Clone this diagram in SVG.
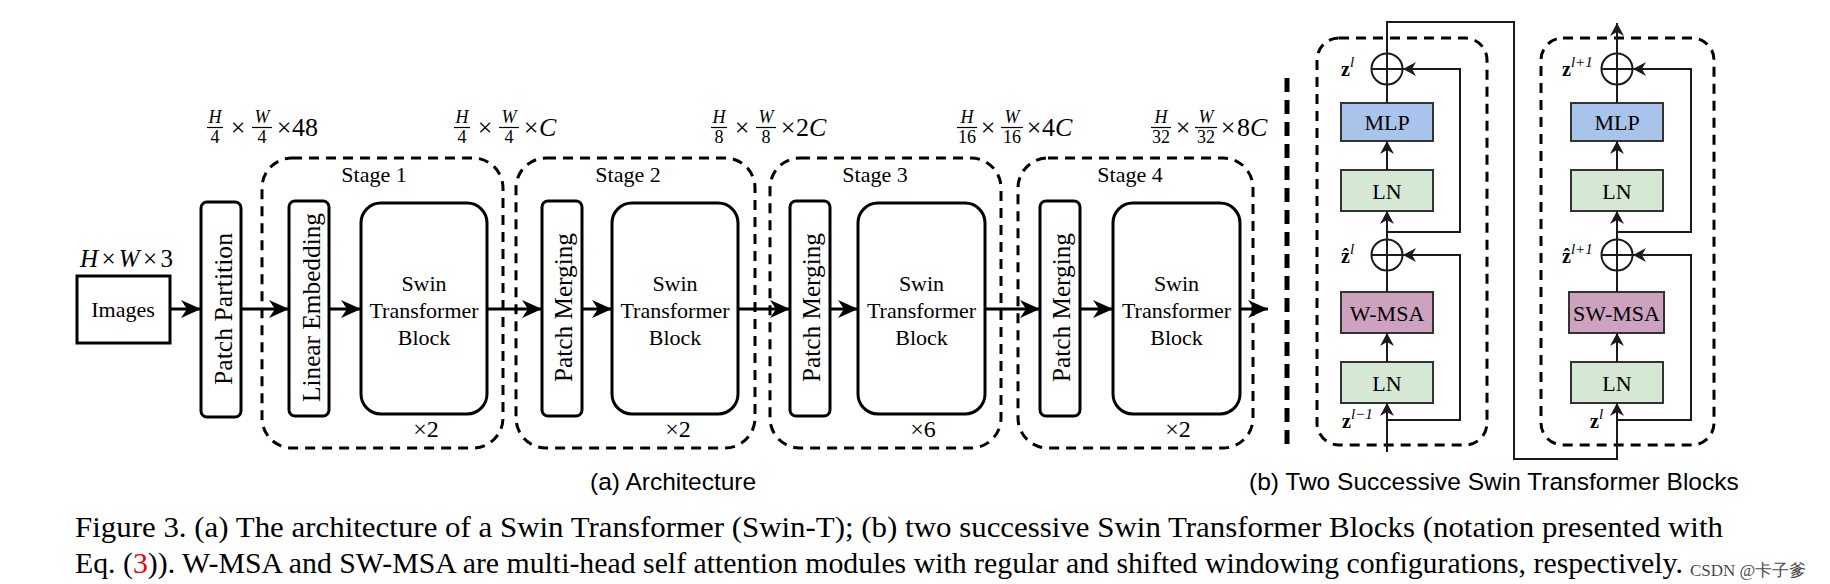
<svg xmlns="http://www.w3.org/2000/svg" width="1830" height="584" viewBox="0 0 1830 584">
<defs>
<style>
text { font-family: "Liberation Serif", "DejaVu Serif", serif; fill: #000; }
.box { fill: #fff; stroke: #000; stroke-width: 3; }
.stage { fill: none; stroke: #000; stroke-width: 3; stroke-dasharray: 10 7; }
.conn { fill: none; stroke: #000; stroke-width: 3; marker-end: url(#ah); }
.t22 { font-size: 22px; text-anchor: middle; }
.rot { font-size: 26px; text-anchor: middle; }
.stg { font-size: 22px; text-anchor: middle; }
.rep { font-size: 24px; text-anchor: middle; }
.fn { font-size: 18px; font-style: italic; text-anchor: middle; }
.fd { font-size: 18px; text-anchor: middle; }
.mx { font-size: 26px; }
.it { font-style: italic; }
.bar { stroke: #000; stroke-width: 1.2; }
.bbox { stroke: #333; stroke-width: 2; }
.mlp { fill: #a9c4eb; }
.ln { fill: #d5e8d4; }
.msa { fill: #cda2be; }
.bt { font-size: 22px; text-anchor: middle; }
.wire { fill: none; stroke: #1a1a1a; stroke-width: 2; }
.wa { fill: none; stroke: #1a1a1a; stroke-width: 2; marker-end: url(#sh); }
.add { fill: none; stroke: #1a1a1a; stroke-width: 2; }
.bdash { fill: none; stroke: #000; stroke-width: 3; stroke-dasharray: 10 7; }
.zl { font-size: 20px; font-weight: bold; }
.sup { font-size: 15px; font-weight: normal; font-style: italic; }
.sub { font-family: "Liberation Sans", Arial, sans-serif; font-size: 24.5px; }
.cap { font-size: 29px; }
</style>
<marker id="ah" markerUnits="userSpaceOnUse" viewBox="0 0 20 18" markerWidth="20" markerHeight="18" refX="20" refY="9" orient="auto">
<path d="M0,0 L20,9 L0,18 L6,9 Z" fill="#000"/>
</marker>
<marker id="sh" markerUnits="userSpaceOnUse" viewBox="0 0 13 14" markerWidth="13" markerHeight="14" refX="13" refY="7" orient="auto">
<path d="M0,0 L13,7 L0,14 L4,7 Z" fill="#1a1a1a"/>
</marker>
</defs>
<rect width="1830" height="584" fill="#fff"/>

<!-- Stage containers -->
<g id="stage1">
<rect class="stage" x="262" y="158" width="241" height="290" rx="30"/>
<text class="stg" x="374" y="182">Stage 1</text>
<text class="rep" x="426" y="437">×2</text>
</g>
<g id="stage2">
<rect class="stage" x="516" y="158" width="239" height="290" rx="30"/>
<text class="stg" x="628" y="182">Stage 2</text>
<text class="rep" x="678" y="437">×2</text>
</g>
<g id="stage3">
<rect class="stage" x="770" y="158" width="231" height="290" rx="30"/>
<text class="stg" x="875" y="182">Stage 3</text>
<text class="rep" x="923" y="437">×6</text>
</g>
<g id="stage4">
<rect class="stage" x="1018" y="158" width="235" height="290" rx="30"/>
<text class="stg" x="1130" y="182">Stage 4</text>
<text class="rep" x="1178" y="437">×2</text>
</g>

<!-- Nodes (a) -->
<g id="images">
<rect class="box" x="77" y="276" width="93" height="67"/>
<text class="t22" x="123" y="317">Images</text>
<text x="80" y="267" font-size="25" textLength="93" lengthAdjust="spacing"><tspan class="it">H</tspan>×<tspan class="it">W</tspan>×3</text>
</g>
<g id="patch-partition">
<rect class="box" x="201" y="202" width="40" height="215" rx="6"/>
<text class="rot" transform="translate(231.5,309) rotate(-90)" textLength="152" lengthAdjust="spacingAndGlyphs">Patch Partition</text>
</g>
<g id="linear-embedding">
<rect class="box" x="289" y="201" width="40" height="215" rx="6"/>
<text class="rot" transform="translate(319.5,307.5) rotate(-90)" textLength="189" lengthAdjust="spacingAndGlyphs">Linear Embedding</text>
</g>
<g id="swin1">
<rect class="box" x="361" y="203" width="126" height="211" rx="20"/>
<text class="t22" x="424" y="291">Swin</text>
<text class="t22" x="424" y="318">Transformer</text>
<text class="t22" x="424" y="345">Block</text>
</g>
<g id="patch-merging2">
<rect class="box" x="542" y="201" width="40" height="215" rx="6"/>
<text class="rot" transform="translate(572,307.5) rotate(-90)" textLength="149" lengthAdjust="spacingAndGlyphs">Patch Merging</text>
</g>
<g id="swin2">
<rect class="box" x="612" y="203" width="126" height="211" rx="20"/>
<text class="t22" x="675" y="291">Swin</text>
<text class="t22" x="675" y="318">Transformer</text>
<text class="t22" x="675" y="345">Block</text>
</g>
<g id="patch-merging3">
<rect class="box" x="790" y="201" width="40" height="215" rx="6"/>
<text class="rot" transform="translate(820,307.5) rotate(-90)" textLength="149" lengthAdjust="spacingAndGlyphs">Patch Merging</text>
</g>
<g id="swin3">
<rect class="box" x="858" y="203" width="127" height="211" rx="20"/>
<text class="t22" x="921.5" y="291">Swin</text>
<text class="t22" x="921.5" y="318">Transformer</text>
<text class="t22" x="921.5" y="345">Block</text>
</g>
<g id="patch-merging4">
<rect class="box" x="1040" y="201" width="40" height="215" rx="6"/>
<text class="rot" transform="translate(1070,307.5) rotate(-90)" textLength="149" lengthAdjust="spacingAndGlyphs">Patch Merging</text>
</g>
<g id="swin4">
<rect class="box" x="1113" y="203" width="127" height="211" rx="20"/>
<text class="t22" x="1176.5" y="291">Swin</text>
<text class="t22" x="1176.5" y="318">Transformer</text>
<text class="t22" x="1176.5" y="345">Block</text>
</g>

<!-- dimension labels -->
<g id="dim1">
<text class="fn" x="215" y="123">H</text><line class="bar" x1="207" y1="127.5" x2="223" y2="127.5"/><text class="fd" x="215" y="143">4</text>
<text class="mx" x="238" y="136" text-anchor="middle">×</text>
<text class="fn" x="262" y="123">W</text><line class="bar" x1="252" y1="127.5" x2="272" y2="127.5"/><text class="fd" x="262" y="143">4</text>
<text class="mx" x="284" y="136" text-anchor="middle">×</text>
<text class="mx" x="292" y="136">48</text>
</g>
<g id="dim2">
<text class="fn" x="462" y="123">H</text><line class="bar" x1="454" y1="127.5" x2="470" y2="127.5"/><text class="fd" x="462" y="143">4</text>
<text class="mx" x="485" y="136" text-anchor="middle">×</text>
<text class="fn" x="509" y="123">W</text><line class="bar" x1="499" y1="127.5" x2="519" y2="127.5"/><text class="fd" x="509" y="143">4</text>
<text class="mx" x="531" y="136" text-anchor="middle">×</text>
<text class="mx it" x="539" y="136">C</text>
</g>
<g id="dim3">
<text class="fn" x="719" y="123">H</text><line class="bar" x1="711" y1="127.5" x2="727" y2="127.5"/><text class="fd" x="719" y="143">8</text>
<text class="mx" x="742" y="136" text-anchor="middle">×</text>
<text class="fn" x="766" y="123">W</text><line class="bar" x1="756" y1="127.5" x2="776" y2="127.5"/><text class="fd" x="766" y="143">8</text>
<text class="mx" x="788" y="136" text-anchor="middle">×</text>
<text class="mx" x="796" y="136">2<tspan class="it">C</tspan></text>
</g>
<g id="dim4">
<text class="fn" x="967" y="123">H</text><line class="bar" x1="957" y1="127.5" x2="977" y2="127.5"/><text class="fd" x="967" y="143">16</text>
<text class="mx" x="988" y="136" text-anchor="middle">×</text>
<text class="fn" x="1012" y="123">W</text><line class="bar" x1="1001" y1="127.5" x2="1023" y2="127.5"/><text class="fd" x="1012" y="143">16</text>
<text class="mx" x="1034" y="136" text-anchor="middle">×</text>
<text class="mx" x="1042" y="136">4<tspan class="it">C</tspan></text>
</g>
<g id="dim5">
<text class="fn" x="1161" y="123">H</text><line class="bar" x1="1151" y1="127.5" x2="1171" y2="127.5"/><text class="fd" x="1161" y="143">32</text>
<text class="mx" x="1183" y="136" text-anchor="middle">×</text>
<text class="fn" x="1206" y="123">W</text><line class="bar" x1="1195" y1="127.5" x2="1217" y2="127.5"/><text class="fd" x="1206" y="143">32</text>
<text class="mx" x="1228" y="136" text-anchor="middle">×</text>
<text class="mx" x="1237" y="136">8<tspan class="it">C</tspan></text>
</g>

<!-- separator -->
<line x1="1287" y1="78" x2="1287" y2="448" stroke="#000" stroke-width="5" stroke-dasharray="14 8"/>

<!-- (b) containers -->
<g id="block-w">
<rect class="bdash" x="1317" y="38" width="170" height="407" rx="22"/>
</g>
<g id="block-sw">
<rect class="bdash" x="1541" y="38" width="173" height="407" rx="22"/>
</g>

<!-- Nodes (b) -->
<g id="b1-mlp"><rect class="bbox mlp" x="1341" y="103" width="92" height="38"/><text class="bt" x="1387" y="130">MLP</text></g>
<g id="b1-ln2"><rect class="bbox ln" x="1341" y="170" width="92" height="41"/><text class="bt" x="1387" y="199">LN</text></g>
<g id="b1-wmsa"><rect class="bbox msa" x="1341" y="292" width="92" height="41"/><text class="bt" x="1387" y="321">W-MSA</text></g>
<g id="b1-ln1"><rect class="bbox ln" x="1341" y="362" width="92" height="41"/><text class="bt" x="1387" y="391">LN</text></g>
<g id="b1-add2"><circle class="add" cx="1387" cy="69" r="15.5"/><path class="add" d="M1371.5,69 H1402.5 M1387,53.5 V84.5"/></g>
<g id="b1-add1"><circle class="add" cx="1387" cy="255" r="15.5"/><path class="add" d="M1371.5,255 H1402.5 M1387,239.5 V270.5"/></g>

<g id="b2-mlp"><rect class="bbox mlp" x="1571" y="103" width="92" height="38"/><text class="bt" x="1617" y="130">MLP</text></g>
<g id="b2-ln2"><rect class="bbox ln" x="1571" y="170" width="92" height="41"/><text class="bt" x="1617" y="199">LN</text></g>
<g id="b2-swmsa"><rect class="bbox msa" x="1569" y="292" width="95" height="41"/><text class="bt" x="1616.5" y="321">SW-MSA</text></g>
<g id="b2-ln1"><rect class="bbox ln" x="1571" y="362" width="92" height="41"/><text class="bt" x="1617" y="391">LN</text></g>
<g id="b2-add2"><circle class="add" cx="1617" cy="69" r="15.5"/><path class="add" d="M1601.5,69 H1632.5 M1617,53.5 V84.5"/></g>
<g id="b2-add1"><circle class="add" cx="1617" cy="255" r="15.5"/><path class="add" d="M1601.5,255 H1632.5 M1617,239.5 V270.5"/></g>

<!-- z labels -->
<g id="zlabels">
<text class="zl" x="1341" y="76">z<tspan class="sup" dy="-9">l</tspan></text>
<text class="zl" x="1341" y="263">ẑ<tspan class="sup" dy="-9">l</tspan></text>
<text class="zl" x="1342" y="428">z<tspan class="sup" dy="-9">l</tspan><tspan class="sup" font-style="normal">−1</tspan></text>
<text class="zl" x="1562" y="76">z<tspan class="sup" dy="-9">l</tspan><tspan class="sup" font-style="normal">+1</tspan></text>
<text class="zl" x="1562" y="263">ẑ<tspan class="sup" dy="-9">l</tspan><tspan class="sup" font-style="normal">+1</tspan></text>
<text class="zl" x="1590" y="428">z<tspan class="sup" dy="-9">l</tspan></text>
</g>

<!-- Connectors -->
<g id="connectors">
<line class="conn" x1="170" y1="309" x2="201" y2="309"/>
<line class="conn" x1="241" y1="309" x2="289" y2="309"/>
<line class="conn" x1="329" y1="309" x2="361" y2="309"/>
<line class="conn" x1="487" y1="309" x2="542" y2="309"/>
<line class="conn" x1="582" y1="309" x2="612" y2="309"/>
<line class="conn" x1="738" y1="309" x2="790" y2="309"/>
<line class="conn" x1="830" y1="309" x2="858" y2="309"/>
<line class="conn" x1="985" y1="309" x2="1040" y2="309"/>
<line class="conn" x1="1080" y1="309" x2="1113" y2="309"/>
<line class="conn" x1="1240" y1="309" x2="1268" y2="309"/>

<path class="wa" d="M1387,452 V403"/>
<path class="wa" d="M1387,362 V333"/>
<path class="wire" d="M1387,292 V270.5"/>
<path class="wa" d="M1387,239.5 V211"/>
<path class="wa" d="M1387,170 V141"/>
<path class="wire" d="M1387,103 V84.5"/>
<path class="wa" d="M1387,420 H1460 V255 H1403"/>
<path class="wa" d="M1387,232 H1460 V69 H1403"/>
<path class="wa" d="M1387,53.5 V22 H1514 V459 H1617 V403"/>

<path class="wa" d="M1617,362 V333"/>
<path class="wire" d="M1617,292 V270.5"/>
<path class="wa" d="M1617,239.5 V211"/>
<path class="wa" d="M1617,170 V141"/>
<path class="wire" d="M1617,103 V84.5"/>
<path class="wa" d="M1617,420 H1691 V255 H1633"/>
<path class="wa" d="M1617,232 H1691 V69 H1633"/>
<path class="wa" d="M1617,53.5 V23"/>
</g>

<!-- subcaptions -->
<text class="sub" x="590" y="490">(a) Architecture</text>
<text class="sub" x="1249" y="490">(b) Two Successive Swin Transformer Blocks</text>

<!-- figure caption -->
<text class="cap" x="75" y="537" textLength="1648" lengthAdjust="spacingAndGlyphs">Figure 3. (a) The architecture of a Swin Transformer (Swin-T); (b) two successive Swin Transformer Blocks (notation presented with</text>
<text class="cap" x="75" y="573" textLength="1608" lengthAdjust="spacingAndGlyphs">Eq. (<tspan fill="#e00">3</tspan>)). W-MSA and SW-MSA are multi-head self attention modules with regular and shifted windowing configurations, respectively.</text>
<text x="1690" y="576" font-family="'Liberation Sans', 'Noto Sans CJK SC', sans-serif" font-size="17" fill="#999" fill-opacity="0.75">CSDN @卡子爹</text>
</svg>
